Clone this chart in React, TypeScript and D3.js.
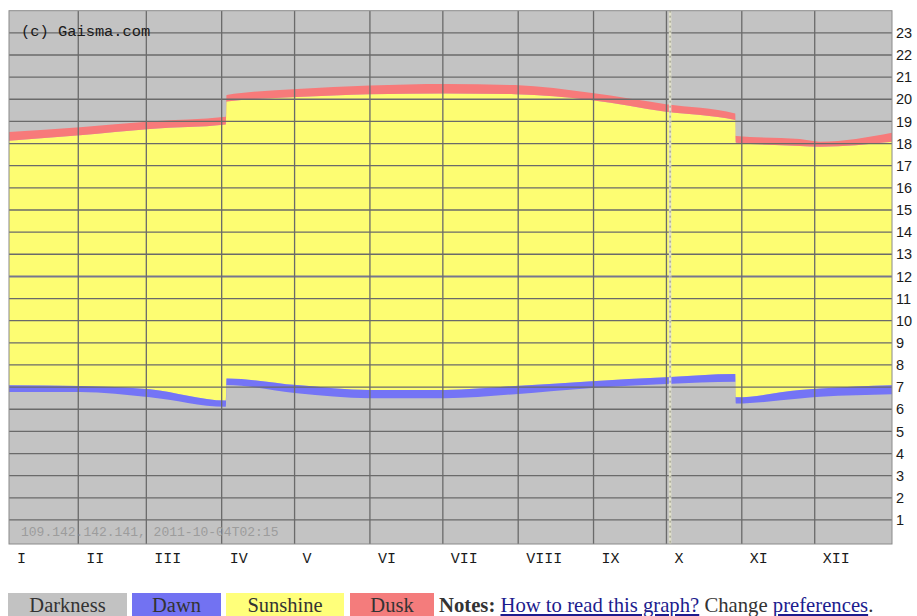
import React from "react";
import * as d3 from "d3";

// ---- data ----
const monthLabels = ["I", "II", "III", "IV", "V", "VI", "VII", "VIII", "IX", "X", "XI", "XII"];
const monthStartDays = [0, 31, 59, 90, 120, 151, 181, 212, 243, 273, 304, 334];
const hourTicks = [1, 2, 3, 4, 5, 6, 7, 8, 9, 10, 11, 12, 13, 14, 15, 16, 17, 18, 19, 20, 21, 22, 23];

// day of year of each sample (DST jumps appear as two close samples)
const days = [0, 31.7, 60.5, 91.7, 92.0, 121, 151, 181.9, 210.7, 242.4, 272.8, 301.3, 301.6, 327.9, 336.2, 366];
// local clock hours
const dawnStart = [6.78, 6.78, 6.54, 6.11, 7.09, 6.72, 6.5, 6.5, 6.68, 6.96, 7.14, 7.24, 6.26, 6.49, 6.56, 6.68];
const sunrise = [7.09, 7.05, 6.9, 6.39, 7.39, 7.09, 6.87, 6.87, 7.05, 7.27, 7.44, 7.59, 6.54, 6.87, 6.94, 7.09];
const sunset = [18.11, 18.38, 18.66, 18.86, 19.9, 20.1, 20.23, 20.26, 20.23, 19.96, 19.44, 19.06, 18.04, 17.89, 17.85, 18.08];
const duskEnd = [18.5, 18.74, 19.0, 19.21, 20.19, 20.46, 20.62, 20.69, 20.64, 20.28, 19.78, 19.36, 18.34, 18.2, 18.08, 18.49];
const todayDay = 274.5;

const legendLabels = ["Darkness", "Dawn", "Sunshine", "Dusk"];
const copyrightText = "(c) Gaisma.com";
const stampText = "109.142.142.141, 2011-10-04T02:15";

// ---- styles ----
const C = {
  dark: "#c3c3c3",
  sun: "#fdfd72",
  dawn: "#7474f6",
  dusk: "#f77a7a",
  grid: "#6a6a6a",
};
const legendColors = ["#c2c2c2", "#7272f2", "#ffff7a", "#f47c7c"];
const legendBoxes = [
  { x: 8, w: 119 },
  { x: 132, w: 89 },
  { x: 226, w: 118 },
  { x: 350, w: 84 },
];

export default function App() {
  const L = 9, R = 892, T = 10.7, B = 544;
  const x = d3.scaleLinear().domain([2.5, 365.8]).range([L, R]);
  const y = d3.scaleLinear().domain([0, 24]).range([542.1, T]);

  const idx = days.map((_, i) => i);
  const band = (lo: number[], hi: number[]) =>
    d3
      .area<number>()
      .x((i) => x(days[i]))
      .y0((i) => y(lo[i]))
      .y1((i) => y(hi[i]))
      .curve(d3.curveMonotoneX)(idx) || "";

  const mono = "'Liberation Mono', 'DejaVu Sans Mono', monospace";
  const serif = "'Liberation Serif', 'Times New Roman', serif";

  return (
    <svg
      width={917}
      height={616}
      style={{ position: "absolute", left: 0, top: 0, background: "#fff" }}
    >
      <defs>
        <clipPath id="plot">
          <rect x={L} y={T} width={R - L} height={B - T} />
        </clipPath>
      </defs>
      <rect x={L} y={T} width={R - L} height={B - T} fill={C.dark} />
      <g clipPath="url(#plot)">
        <path d={band(sunrise, sunset)} fill={C.sun} />
        <path d={band(dawnStart, sunrise)} fill={C.dawn} />
        <path d={band(sunset, duskEnd)} fill={C.dusk} />
        {hourTicks.map((h) => (
          <line
            key={h}
            x1={L}
            x2={R}
            y1={y(h)}
            y2={y(h)}
            stroke={h === 12 ? "#76768e" : C.grid}
            strokeWidth={h === 12 ? 2 : 1.3}
          />
        ))}
        {monthStartDays.slice(1).map((d) => (
          <line key={d} x1={x(d)} x2={x(d)} y1={T} y2={B} stroke={C.grid} strokeWidth={1.3} />
        ))}
        <line x1={x(todayDay)} x2={x(todayDay)} y1={T} y2={B} stroke="#e2e2cc" strokeWidth={2.5} />
        <line
          x1={x(todayDay)}
          x2={x(todayDay)}
          y1={T}
          y2={B}
          stroke="#8e8e80"
          strokeWidth={1}
          strokeDasharray="2 3"
        />
      </g>
      <rect x={L} y={T} width={R - L} height={B - T} fill="none" stroke="#8a8a8a" strokeWidth={1} />

      <text x={21} y={36} fontFamily={mono} fontSize={15.4} fill="#1a1a1a">
        {copyrightText}
      </text>
      <text x={21} y={535.5} fontFamily={mono} fontSize={13} fill="#9c9c9c">
        {stampText}
      </text>

      {hourTicks.map((h) => (
        <text
          key={h}
          x={896}
          y={y(h)}
          dy="0.36em"
          fontFamily="'Liberation Sans', Arial, sans-serif"
          fontSize={14.5}
          fill="#1a1a1a"
        >
          {h}
        </text>
      ))}

      {monthLabels.map((m, i) => (
        <text
          key={m}
          x={Math.max(x(monthStartDays[i]), L) + 8}
          y={563}
          fontFamily={mono}
          fontSize={15}
          fill="#1a1a1a"
        >
          {m}
        </text>
      ))}

      {legendLabels.map((lab, i) => (
        <g key={lab}>
          <rect x={legendBoxes[i].x} y={593} width={legendBoxes[i].w} height={26} fill={legendColors[i]} />
          <text
            x={legendBoxes[i].x + legendBoxes[i].w / 2}
            y={612}
            textAnchor="middle"
            fontFamily={serif}
            fontSize={20.5}
            fill="#333"
          >
            {lab}
          </text>
        </g>
      ))}
      <text x={439} y={612} fontFamily={serif} fontSize={20.7} fill="#333">
        <tspan fontWeight="bold">Notes:</tspan>
        <tspan> </tspan>
        <tspan fill="#1c1c8e" style={{ textDecoration: "underline" }}>How to read this graph?</tspan>
        <tspan> Change </tspan>
        <tspan fill="#1c1c8e" style={{ textDecoration: "underline" }}>preferences</tspan>
        <tspan>.</tspan>
      </text>
    </svg>
  );
}
